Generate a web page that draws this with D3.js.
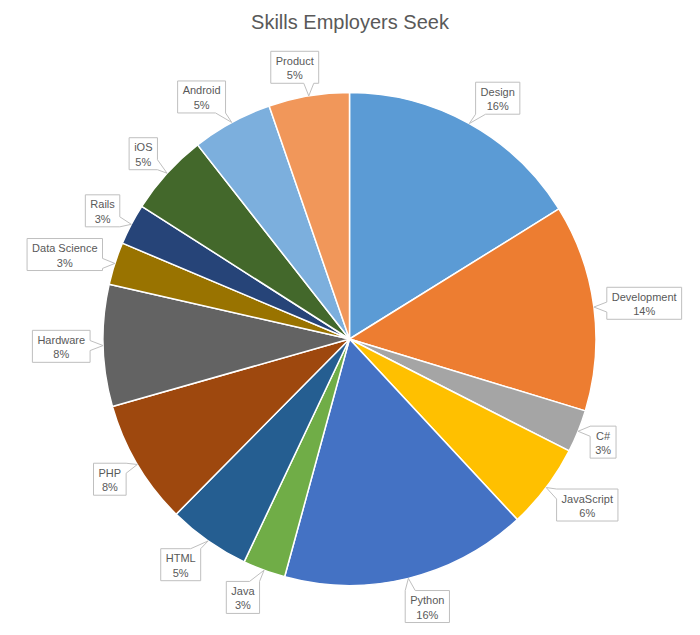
<!DOCTYPE html>
<html>
<head>
<meta charset="utf-8">
<script src="https://cdn.jsdelivr.net/npm/d3@7"></script>
<style>
  body { margin: 0; background: #fff; }
  svg { display: block; }
</style>
</head>
<body>
<svg id="chart" width="700" height="635"></svg>
<script>
const WIDTH = 700;
const HEIGHT = 635;
const CENTER = { x: 349.5, y: 339 };
const RADIUS = 246.5;

// slices, clockwise from 12 o'clock
const skills = ["Design", "Development", "C#", "JavaScript", "Python", "Java", "HTML",
  "PHP", "Hardware", "Data Science", "Rails", "iOS", "Android", "Product"];
const shares = [16.2, 13.6, 2.8, 5.6, 16.2, 2.8, 5.4, 8.2, 8.0, 2.8, 2.7, 5.4, 5.3, 5.3];
const colors = ["#5B9BD5", "#ED7D31", "#A5A5A5", "#FFC000", "#4472C4", "#70AD47", "#255E91",
  "#9E480E", "#636363", "#997300", "#264478", "#43682B", "#7CAFDD", "#F1975A"];

const data = skills.map((name, i) => ({ name, value: shares[i], color: colors[i] }));
const total = d3.sum(data, d => d.value);
const pct = d3.format(".0%");

const svg = d3.select("#chart");

svg.append("text")
  .attr("x", WIDTH / 2)
  .attr("y", 29)
  .attr("text-anchor", "middle")
  .attr("font-family", "Liberation Sans, Arial, sans-serif")
  .attr("font-size", 20)
  .attr("fill", "#595959")
  .text("Skills Employers Seek");

const pie = d3.pie().sort(null).value(d => d.value);
const arc = d3.arc().innerRadius(0).outerRadius(RADIUS);
const arcs = pie(data);

const g = svg.append("g").attr("transform", `translate(${CENTER.x},${CENTER.y})`);

g.selectAll("path.slice")
  .data(arcs)
  .join("path")
  .attr("class", "slice")
  .attr("d", arc)
  .attr("fill", d => d.data.color)
  .attr("stroke", "#fff")
  .attr("stroke-width", 1.5)
  .attr("stroke-linejoin", "round");

// callout path: rectangle with a wedge pointing at the tip
function callout(x0, y0, x1, y1, tx, ty) {
  const dx = tx < x0 ? x0 - tx : tx > x1 ? tx - x1 : 0;
  const dy = ty < y0 ? y0 - ty : ty > y1 ? ty - y1 : 0;
  const half = 5;
  const base = (p, lo, hi) => {
    p = Math.max(lo, Math.min(hi, p));
    let a = p - half, b = p + half;
    if (a < lo) { a = lo; b = lo + 2 * half; }
    if (b > hi) { b = hi; a = hi - 2 * half; }
    return [a, b];
  };
  let side;
  if (dy >= dx) side = ty < y0 ? "top" : "bottom";
  else side = tx < x0 ? "left" : "right";
  const p = d3.path();
  p.moveTo(x0, y0);
  if (side === "top") {
    const [a, b] = base(tx, x0, x1);
    p.lineTo(a, y0); p.lineTo(tx, ty); p.lineTo(b, y0);
  }
  p.lineTo(x1, y0);
  if (side === "right") {
    const [a, b] = base(ty, y0, y1);
    p.lineTo(x1, a); p.lineTo(tx, ty); p.lineTo(x1, b);
  }
  p.lineTo(x1, y1);
  if (side === "bottom") {
    const [a, b] = base(tx, x0, x1);
    p.lineTo(b, y1); p.lineTo(tx, ty); p.lineTo(a, y1);
  }
  p.lineTo(x0, y1);
  if (side === "left") {
    const [a, b] = base(ty, y0, y1);
    p.lineTo(x0, b); p.lineTo(tx, ty); p.lineTo(x0, a);
  }
  p.closePath();
  return p.toString();
}

const labels = g.selectAll("g.label")
  .data(arcs)
  .join("g")
  .attr("class", "label");

labels.each(function (d) {
  const lg = d3.select(this);
  const a = (d.startAngle + d.endAngle) / 2;
  const s = Math.sin(a), c = Math.cos(a);
  const tip = [RADIUS * s, -RADIUS * c];
  const anchor = [(RADIUS + 13) * s, -(RADIUS + 13) * c];

  const path = lg.append("path");
  const txt = lg.append("text")
    .attr("font-family", "Liberation Sans, Arial, sans-serif")
    .attr("font-size", 11)
    .attr("fill", "#595959")
    .attr("text-anchor", "middle");
  const l1 = txt.append("tspan").text(d.data.name);
  const l2 = txt.append("tspan").text(pct(d.data.value / total));

  const w = Math.max(l1.node().getComputedTextLength(), l2.node().getComputedTextLength()) + 10;
  const h = 32;
  const frac = Math.min(1, Math.abs(s) * 3);
  const cx = anchor[0] + Math.sign(s) * frac * w / 2;
  const cy = anchor[1] - c * h / 2;

  l1.attr("x", cx).attr("y", cy - 2.5);
  l2.attr("x", cx).attr("y", cy + 12);

  path.attr("d", callout(cx - w / 2, cy - h / 2, cx + w / 2, cy + h / 2, tip[0], tip[1]))
    .attr("fill", "#fff")
    .attr("stroke", "#BFBFBF")
    .attr("stroke-width", 1);
});
</script>
</body>
</html>
